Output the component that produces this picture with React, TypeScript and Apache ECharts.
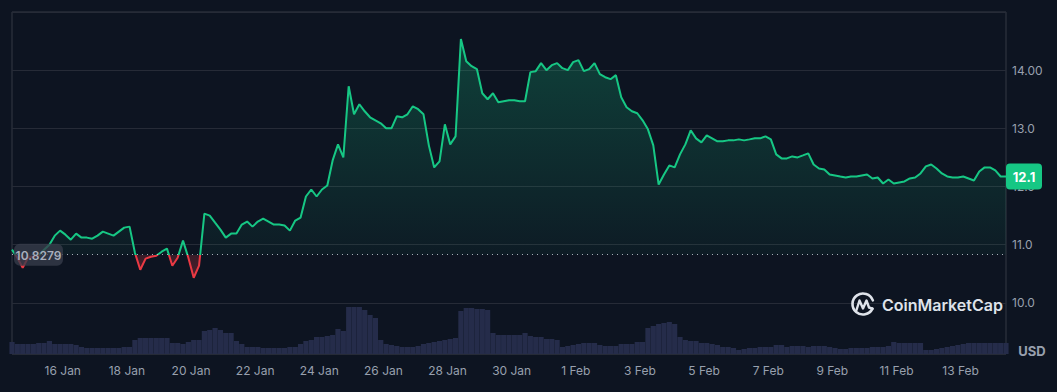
import React, { useEffect, useRef } from 'react';
import * as echarts from 'echarts';

// ---- data ----
const START_UTC = Date.UTC(2025, 0, 14, 10);
const END_UTC = Date.UTC(2025, 1, 14, 10);
const STEP_HOURS = 4;
const DAY_MS = 86400000;
const openPrice = 10.8279;

const priceValues = [
  10.914, 10.776, 10.603, 10.776, 10.793, 10.81, 10.914, 11.0, 11.155, 11.241,
  11.172, 11.086, 11.19, 11.121, 11.121, 11.103, 11.155, 11.224, 11.19, 11.155,
  11.224, 11.293, 11.31, 10.862, 10.569, 10.759, 10.793, 10.81, 10.879, 10.931,
  10.638, 10.776, 11.069, 10.776, 10.431, 10.638, 11.534, 11.5, 11.379, 11.259,
  11.121, 11.19, 11.19, 11.345, 11.397, 11.31, 11.397, 11.448, 11.397, 11.345,
  11.345, 11.328, 11.241, 11.414, 11.466, 11.828, 11.948, 11.828, 11.948, 12.017,
  12.448, 12.724, 12.5, 13.724, 13.241, 13.414, 13.293, 13.19, 13.138, 13.086,
  13.0, 13.0, 13.207, 13.19, 13.241, 13.379, 13.328, 13.241, 12.707, 12.328,
  12.431, 13.069, 12.724, 12.862, 14.534, 14.155, 14.069, 14.017, 13.603, 13.5,
  13.603, 13.448, 13.466, 13.483, 13.483, 13.466, 13.466, 13.966, 13.983, 14.121,
  14.0, 14.086, 14.121, 14.034, 14.0, 14.138, 14.172, 13.983, 14.017, 14.121,
  13.931, 13.879, 13.845, 13.914, 13.534, 13.362, 13.293, 13.259, 13.138, 12.983,
  12.707, 12.034, 12.207, 12.362, 12.328, 12.552, 12.724, 12.966, 12.828, 12.759,
  12.879, 12.828, 12.776, 12.776, 12.793, 12.793, 12.81, 12.793, 12.81, 12.828,
  12.828, 12.862, 12.81, 12.552, 12.483, 12.483, 12.517, 12.5, 12.534, 12.569,
  12.379, 12.31, 12.293, 12.207, 12.19, 12.172, 12.155, 12.172, 12.172, 12.19,
  12.207, 12.138, 12.155, 12.052, 12.121, 12.052, 12.069, 12.086, 12.138, 12.155,
  12.224, 12.345, 12.379, 12.31, 12.224, 12.172, 12.155, 12.155, 12.172, 12.138,
  12.103, 12.259, 12.328, 12.328, 12.276, 12.172, 12.172,
];

const volumeValues = [
  12, 10, 10, 10, 10, 11, 11, 13, 10, 10,
  10, 10, 9, 7, 6, 6, 6, 6, 6, 6,
  6, 7, 7, 14, 16, 16, 16, 16, 16, 16,
  11, 11, 10, 12, 14, 14, 23, 24, 26, 24,
  21, 21, 13, 10, 7, 7, 7, 6, 6, 6,
  6, 6, 7, 7, 10, 13, 14, 17, 17, 18,
  19, 25, 23, 47, 47, 47, 44, 39, 36, 14,
  10, 9, 8, 7, 7, 7, 8, 10, 11, 12,
  13, 14, 15, 16, 43, 46, 46, 45, 45, 44,
  21, 19, 19, 19, 19, 19, 21, 18, 17, 17,
  15, 15, 14, 7, 8, 9, 10, 11, 11, 11,
  9, 8, 8, 8, 10, 10, 10, 12, 12, 26,
  28, 30, 31, 32, 30, 17, 14, 13, 13, 11,
  11, 10, 9, 7, 7, 6, 4, 5, 6, 6,
  7, 7, 7, 9, 9, 7, 8, 8, 8, 7,
  8, 8, 8, 7, 6, 5, 5, 6, 6, 6,
  6, 7, 7, 7, 8, 12, 11, 11, 11, 11,
  11, 4, 4, 5, 6, 7, 8, 9, 10, 11,
  11, 11, 11, 11, 11, 11, 11,
];

const xTickDates = [
  '2025-01-16', '2025-01-18', '2025-01-20', '2025-01-22', '2025-01-24',
  '2025-01-26', '2025-01-28', '2025-01-30', '2025-02-01', '2025-02-03',
  '2025-02-05', '2025-02-07', '2025-02-09', '2025-02-11', '2025-02-13',
];
const xTickLabels = [
  '16 Jan', '18 Jan', '20 Jan', '22 Jan', '24 Jan', '26 Jan', '28 Jan', '30 Jan',
  '1 Feb', '3 Feb', '5 Feb', '7 Feb', '9 Feb', '11 Feb', '13 Feb',
];
const yTickValues = [10, 11, 12, 13, 14];
const yTickLabels = ['10.0', '11.0', '12.0', '13.0', '14.00'];

// ---- styles ----
const BG = '#0d1421';
const GREEN = '#16c784';
const RED = '#ea3943';
const LABEL = '#98a0ae';
const FONT = 'Inter, "Noto Sans", sans-serif';
const Y_MIN = 9.12;
const Y_MAX = 15;
const VOL_MAX = 342;

export default function App() {
  const ref = useRef<HTMLDivElement>(null);

  useEffect(() => {
    document.body.style.margin = '0';
    document.body.style.background = BG;
    const chart = echarts.init(ref.current!, null, { renderer: 'svg' });
    const times = priceValues.map((_, i) => START_UTC + i * STEP_HOURS * 3600000);
    const priceData = priceValues.map((v, i) => [times[i], v]);
    const volData = volumeValues.map((v, i) => [times[i], v]);
    const xTicks = xTickDates.map((s) => Date.parse(s + 'T00:00:00Z'));

    chart.setOption({
      animation: false,
      backgroundColor: BG,
      grid: {
        left: 12, right: 51, top: 12, bottom: 38,
        show: true, borderColor: '#343945', borderWidth: 1, backgroundColor: 'transparent',
      },
      xAxis: {
        type: 'value',
        min: START_UTC,
        max: END_UTC,
        minInterval: 2 * DAY_MS,
        maxInterval: 2 * DAY_MS,
        axisLine: { show: false },
        axisTick: { show: false },
        splitLine: { show: false },
        axisLabel: {
          formatter: (v: number) => {
            const k = xTicks.findIndex((t) => Math.abs(t - v) < 1000);
            return k >= 0 ? xTickLabels[k] : '';
          },
          color: LABEL, fontSize: 12, fontFamily: FONT, margin: 10, hideOverlap: false,
          showMinLabel: true, showMaxLabel: true,
        },
      },
      yAxis: [
        {
          type: 'value', position: 'right', min: Y_MIN, max: Y_MAX,
          minInterval: 1, maxInterval: 1,
          axisLine: { show: false },
          axisTick: { show: false },
          axisLabel: {
            formatter: (v: number) => {
              const k = yTickValues.findIndex((t) => Math.abs(t - v) < 1e-6);
              return k >= 0 ? yTickLabels[k] : '';
            },
            color: LABEL, fontSize: 12, fontFamily: FONT, margin: 6,
          },
          splitLine: { show: true, lineStyle: { color: '#262b37', width: 1 } },
        },
        { type: 'value', min: 0, max: VOL_MAX, show: false, splitLine: { show: false } },
      ],
      visualMap: {
        type: 'piecewise', show: false, seriesIndex: 0, dimension: 1,
        pieces: [
          { gte: 0, lt: openPrice, color: RED },
          { gte: openPrice, lte: 1000, color: GREEN },
        ],
      },
      series: [
        {
          id: 'price', type: 'line', data: priceData, showSymbol: false, symbol: 'none',
          lineStyle: { width: 2 }, z: 3,
          areaStyle: { origin: openPrice, color: 'rgba(22,199,132,0.15)' },
          markLine: {
            silent: true, symbol: 'none', label: { show: false },
            lineStyle: { color: '#c3c8d2', type: [1, 4], width: 1, opacity: 0.85 },
            data: [{ yAxis: openPrice }],
          },
        },
        {
          id: 'volume', type: 'bar', yAxisIndex: 1, data: volData,
          itemStyle: { color: '#252c4a' }, barWidth: '97%', z: 1,
        },
      ],
    });

    const toY = (v: number) => chart.convertToPixel({ yAxisIndex: 0 }, v) as number;
    const baseY = toY(openPrice);
    const topY = toY(Math.max(...priceValues));
    const lowY = toY(Math.min(...priceValues)) + 4;
    const b = (baseY - topY) / (lowY - topY);
    const lastV = priceValues[priceValues.length - 1];
    const lastY = toY(lastV);
    const gridRight = 1057 - 51;
    const WM = '#dfe3ea';

    chart.setOption({
      series: [
        {
          id: 'price',
          areaStyle: {
            origin: openPrice,
            color: new echarts.graphic.LinearGradient(0, topY, 0, lowY, [
              { offset: 0, color: 'rgba(22,199,132,0.36)' },
              { offset: b, color: 'rgba(22,199,132,0.06)' },
              { offset: b, color: 'rgba(234,57,67,0.28)' },
              { offset: 1, color: 'rgba(234,57,67,0.45)' },
            ], true),
          },
        },
      ],
      graphic: [
        {
          type: 'rect', z: 100,
          shape: { x: 14, y: baseY - 11, width: 49, height: 22, r: 6 },
          style: { fill: 'rgba(55,60,74,0.78)' },
        },
        {
          type: 'text', z: 101, x: 38.5, y: baseY + 1,
          style: { text: String(openPrice), fill: '#a9afbd', font: `600 12px ${FONT}`, align: 'center', verticalAlign: 'middle' },
        },
        {
          type: 'rect', z: 100,
          shape: { x: gridRight, y: lastY - 13, width: 36, height: 26, r: 4 },
          style: { fill: GREEN },
        },
        {
          type: 'text', z: 101, x: gridRight + 18, y: lastY + 0.5,
          style: { text: (Math.floor(lastV * 10) / 10).toFixed(1), fill: '#ffffff', font: `700 13px ${FONT}`, align: 'center', verticalAlign: 'middle' },
        },
        {
          type: 'text', z: 100, x: 1032, y: 351,
          style: { text: 'USD', fill: LABEL, font: `700 13px ${FONT}`, align: 'center', verticalAlign: 'middle' },
        },
        {
          type: 'arc', z: 100,
          shape: { cx: 863, cy: 304, r: 10.5, startAngle: 0.45, endAngle: Math.PI * 2 - 0.35, clockwise: true },
          style: { stroke: WM, lineWidth: 2.6, fill: 'none', lineCap: 'round' },
        },
        {
          type: 'polyline', z: 100,
          shape: { points: [[856.5, 310], [859.5, 300.5], [863, 308.5], [866.5, 300.5], [869, 307.5], [872.5, 308.6]] },
          style: { stroke: WM, lineWidth: 2.4, fill: 'none', lineJoin: 'round', lineCap: 'round' },
        },
        {
          type: 'text', z: 100, x: 882, y: 305,
          style: { text: 'CoinMarketCap', fill: WM, font: `600 16px ${FONT}`, align: 'left', verticalAlign: 'middle' },
        },
      ],
    });

    return () => chart.dispose();
  }, []);

  return <div ref={ref} style={{ width: 1057, height: 392, background: BG }} />;
}
